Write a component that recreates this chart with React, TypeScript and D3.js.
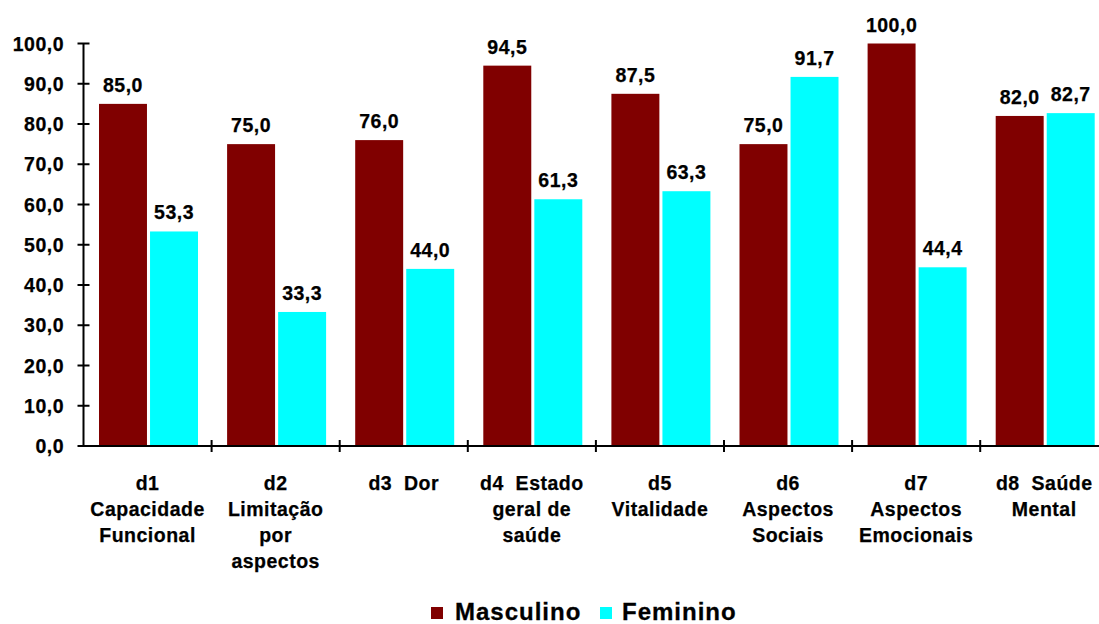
import React from 'react';
import * as d3 from 'd3';

// Category labels, one entry per line
const CATEGORIES = ['d1', 'd2', 'd3', 'd4', 'd5', 'd6', 'd7', 'd8'];
const CATEGORY_LINES = [
  ['d1', 'Capacidade', 'Funcional'],
  ['d2', 'Limitação', 'por', 'aspectos'],
  ['d3  Dor'],
  ['d4  Estado', 'geral de', 'saúde'],
  ['d5', 'Vitalidade'],
  ['d6', 'Aspectos', 'Sociais'],
  ['d7', 'Aspectos', 'Emocionais'],
  ['d8  Saúde', 'Mental']
];
const SERIES = ['Masculino', 'Feminino'];
const MASCULINO = [85.0, 75.0, 76.0, 94.5, 87.5, 75.0, 100.0, 82.0];
const FEMININO = [53.3, 33.3, 44.0, 61.3, 63.3, 91.7, 44.4, 82.7];
const Y_TICKS = [0, 10, 20, 30, 40, 50, 60, 70, 80, 90, 100];

const COLORS: Record<string, string> = {
  Masculino: '#800000',
  Feminino: '#00ffff'
};

const WIDTH = 1099;
const HEIGHT = 624;
const FONT = '"Liberation Sans", Arial, sans-serif';

const fmt = (v: number) => v.toFixed(1).replace('.', ',');

// shared style for the bold labels
const LABEL = { fontSize: 19.5, letterSpacing: 0.5, fill: '#000', stroke: '#000', strokeWidth: 0.25 };

export default function App() {
  const left = 83.5;
  const catWidth = 128.1;

  const x0 = d3.scaleBand<string>()
    .domain(CATEGORIES)
    .range([left, left + catWidth * CATEGORIES.length])
    .padding(0);

  const x1 = d3.scaleBand<string>()
    .domain(SERIES)
    .range([15.5, 114.5])
    .paddingInner(0.06);

  const y = d3.scaleLinear().domain([0, 100]).range([446, 43.5]);

  const rows = CATEGORIES.map((c, i) => ({
    cat: c,
    values: [
      { series: 'Masculino', value: MASCULINO[i] },
      { series: 'Feminino', value: FEMININO[i] }
    ]
  }));

  const boundaries = CATEGORIES.map(c => x0(c)! + x0.bandwidth()).slice(0, -1);

  return (
    <svg width={WIDTH} height={HEIGHT}
      style={{ position: 'absolute', left: 0, top: 0, display: 'block', background: '#fff' }}
      fontFamily={FONT} fontWeight='bold'>
      {/* bars */}
      {rows.map(r => (
        <g key={r.cat} transform={`translate(${x0(r.cat)},0)`}>
          {r.values.map(v => (
            <g key={v.series}>
              <rect x={x1(v.series)} y={y(v.value)} width={x1.bandwidth()}
                height={y(0) - y(v.value)} fill={COLORS[v.series]} />
              <text x={x1(v.series)! + x1.bandwidth() / 2} y={y(v.value) - 12}
                textAnchor='middle' {...LABEL}>
                {fmt(v.value)}
              </text>
            </g>
          ))}
        </g>
      ))}

      {/* y axis */}
      <line x1={left} x2={left} y1={y(100)} y2={y(0)} stroke='#000' strokeWidth={2} />
      {Y_TICKS.map(t => (
        <g key={t}>
          <line x1={left - 6} x2={left + 6} y1={y(t)} y2={y(t)} stroke='#000' strokeWidth={2} />
          <text x={64} y={y(t)} dy='0.36em' textAnchor='end' {...LABEL}>{fmt(t)}</text>
        </g>
      ))}

      {/* x axis */}
      <line x1={left} x2={WIDTH} y1={y(0)} y2={y(0)} stroke='#000' strokeWidth={2} />
      {boundaries.map((b, i) => (
        <line key={i} x1={b} x2={b} y1={y(0) - 6} y2={y(0) + 6} stroke='#000' strokeWidth={2} />
      ))}
      {CATEGORIES.map((c, i) => (
        <text key={c} x={x0(c)! + x0.bandwidth() / 2} y={490} textAnchor='middle'
          {...LABEL} style={{ whiteSpace: 'pre' }}>
          {CATEGORY_LINES[i].map((line, j) => (
            <tspan key={j} x={x0(c)! + x0.bandwidth() / 2} dy={j === 0 ? 0 : 26}>{line}</tspan>
          ))}
        </text>
      ))}

      {/* legend */}
      <rect x={431} y={607} width={12} height={12} fill={COLORS.Masculino} />
      <text x={455} y={620} fontSize={24} letterSpacing={1} fill='#000' stroke='#000' strokeWidth={0.3}>Masculino</text>
      <rect x={600} y={607} width={12} height={12} fill={COLORS.Feminino} />
      <text x={622} y={620} fontSize={24} letterSpacing={1} fill='#000' stroke='#000' strokeWidth={0.3}>Feminino</text>
    </svg>
  );
}
